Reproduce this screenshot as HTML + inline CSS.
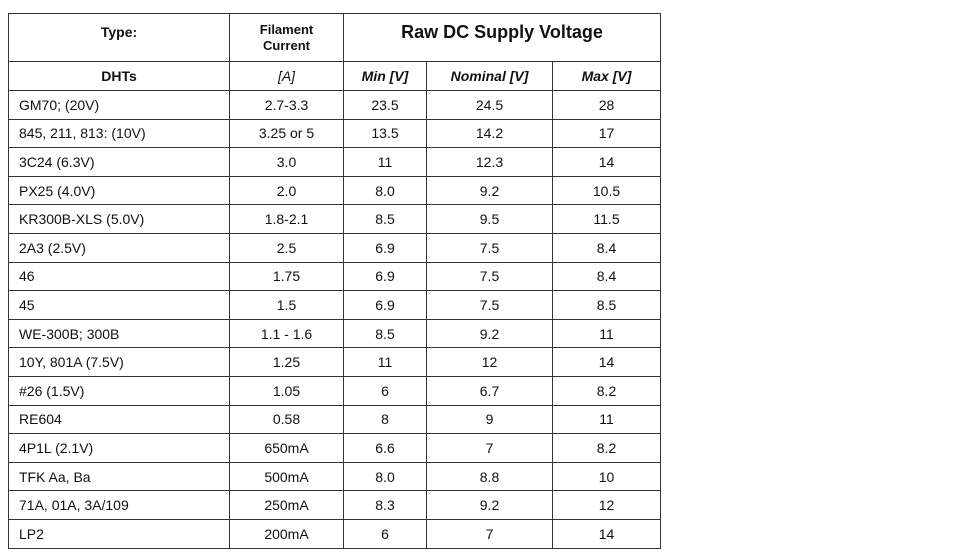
<!DOCTYPE html>
<html><head><style>
body{margin:0;width:975px;height:555px;background:#fff;font-family:"Liberation Sans",Arial,sans-serif;color:#111;position:relative;overflow:hidden}
table{position:absolute;left:8px;top:13px;border-collapse:collapse;table-layout:fixed}
td{border:1.5px solid #333;text-align:center;font-size:14px;padding:0;height:27.6px}
td.l{text-align:left;padding-left:10px}
.h td{font-weight:bold}
</style></head><body>
<table>
<colgroup><col style="width:221px"><col style="width:114px"><col style="width:83px"><col style="width:126px"><col style="width:108px"></colgroup>
<tr class="h"><td style="height:37px;vertical-align:top;padding-top:10px">Type:</td><td style="font-size:13px;line-height:16px">Filament<br>Current</td><td colspan="3" style="font-size:18px;vertical-align:top;padding-top:8px">Raw DC Supply Voltage</td></tr>
<tr class="h"><td style="height:28px">DHTs</td><td style="font-weight:normal;font-style:italic">[A]</td><td style="font-style:italic">Min [V]</td><td style="font-style:italic">Nominal [V]</td><td style="font-style:italic">Max [V]</td></tr>
<tr><td class="l">GM70; (20V)</td><td>2.7-3.3</td><td>23.5</td><td>24.5</td><td>28</td></tr>
<tr><td class="l">845, 211, 813: (10V)</td><td>3.25 or 5</td><td>13.5</td><td>14.2</td><td>17</td></tr>
<tr><td class="l">3C24 (6.3V)</td><td>3.0</td><td>11</td><td>12.3</td><td>14</td></tr>
<tr><td class="l">PX25 (4.0V)</td><td>2.0</td><td>8.0</td><td>9.2</td><td>10.5</td></tr>
<tr><td class="l">KR300B-XLS (5.0V)</td><td>1.8-2.1</td><td>8.5</td><td>9.5</td><td>11.5</td></tr>
<tr><td class="l">2A3 (2.5V)</td><td>2.5</td><td>6.9</td><td>7.5</td><td>8.4</td></tr>
<tr><td class="l">46</td><td>1.75</td><td>6.9</td><td>7.5</td><td>8.4</td></tr>
<tr><td class="l">45</td><td>1.5</td><td>6.9</td><td>7.5</td><td>8.5</td></tr>
<tr><td class="l">WE-300B; 300B</td><td>1.1 - 1.6</td><td>8.5</td><td>9.2</td><td>11</td></tr>
<tr><td class="l">10Y, 801A (7.5V)</td><td>1.25</td><td>11</td><td>12</td><td>14</td></tr>
<tr><td class="l">#26 (1.5V)</td><td>1.05</td><td>6</td><td>6.7</td><td>8.2</td></tr>
<tr><td class="l">RE604</td><td>0.58</td><td>8</td><td>9</td><td>11</td></tr>
<tr><td class="l">4P1L (2.1V)</td><td>650mA</td><td>6.6</td><td>7</td><td>8.2</td></tr>
<tr><td class="l">TFK Aa, Ba</td><td>500mA</td><td>8.0</td><td>8.8</td><td>10</td></tr>
<tr><td class="l">71A, 01A, 3A/109</td><td>250mA</td><td>8.3</td><td>9.2</td><td>12</td></tr>
<tr><td class="l">LP2</td><td>200mA</td><td>6</td><td>7</td><td>14</td></tr>
</table>
</body></html>
